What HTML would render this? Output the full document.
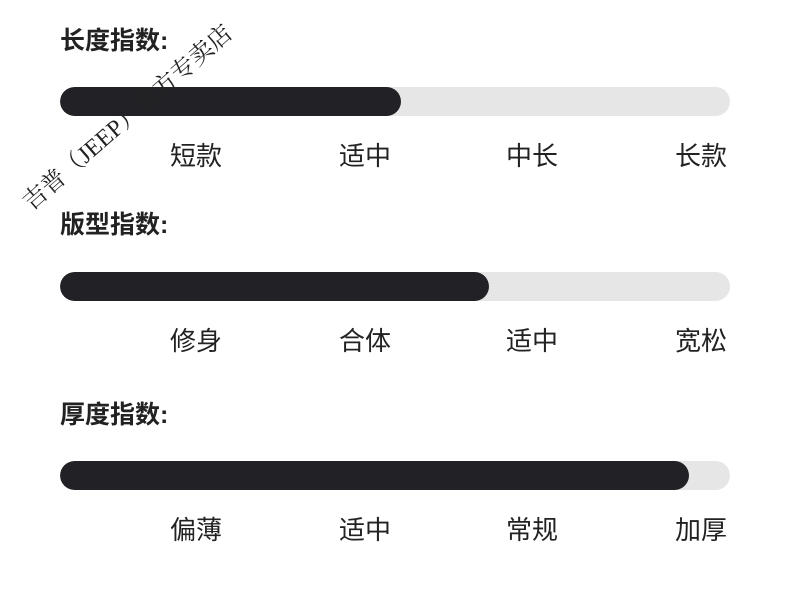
<!DOCTYPE html>
<html><head><meta charset="utf-8"><style>
html,body{margin:0;padding:0;background:#fff;width:790px;height:598px;overflow:hidden;position:relative;font-family:"Liberation Sans","Noto Sans CJK SC",sans-serif;}
.t{position:absolute;left:60px;font-size:25px;font-weight:bold;color:#222;line-height:1;}
.bar{position:absolute;left:60px;width:670px;height:29px;border-radius:15px;background:#e6e6e6;overflow:hidden;}
.fill{position:absolute;left:0;top:0;height:29px;border-radius:15px;background:#222226;}
.l{position:absolute;font-size:26px;color:#222;line-height:1;width:100px;text-align:center;}
.wm{position:absolute;z-index:5;left:128px;top:118px;transform:translate(-50%,-50%) rotate(-41deg);font-family:"Liberation Serif","Noto Serif CJK SC",serif;font-size:24px;color:#222;white-space:nowrap;line-height:1;}
</style></head><body>
<div class="t" style="top:29px">长度指数:</div>
<div class="bar" style="top:87px"><div class="fill" style="width:341px"></div></div>
<div class="l" style="left:146px;top:143px">短款</div>
<div class="l" style="left:315px;top:143px">适中</div>
<div class="l" style="left:482px;top:143px">中长</div>
<div class="l" style="left:651px;top:143px">长款</div>

<div class="t" style="top:213px">版型指数:</div>
<div class="bar" style="top:272px"><div class="fill" style="width:429px"></div></div>
<div class="l" style="left:146px;top:328px">修身</div>
<div class="l" style="left:315px;top:328px">合体</div>
<div class="l" style="left:482px;top:328px">适中</div>
<div class="l" style="left:651px;top:328px">宽松</div>

<div class="t" style="top:403px">厚度指数:</div>
<div class="bar" style="top:461px"><div class="fill" style="width:629px"></div></div>
<div class="l" style="left:146px;top:517px">偏薄</div>
<div class="l" style="left:315px;top:517px">适中</div>
<div class="l" style="left:482px;top:517px">常规</div>
<div class="l" style="left:651px;top:517px">加厚</div>

<div class="wm">吉普（JEEP）全方专卖店</div>
</body></html>
